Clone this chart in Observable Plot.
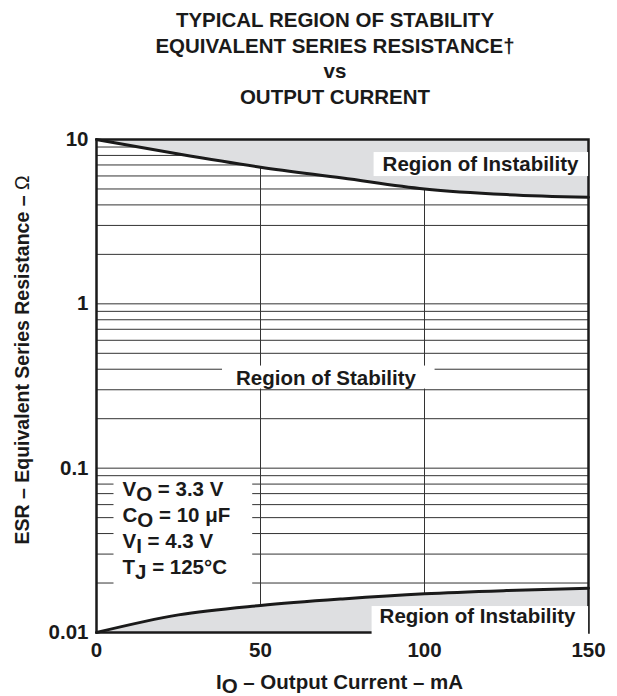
<!DOCTYPE html>
<html><head><meta charset="utf-8">
<script src="https://cdn.jsdelivr.net/npm/d3@7"></script>
<script src="https://cdn.jsdelivr.net/npm/@observablehq/plot@0.6"></script>
<style>
body{margin:0;background:#fff;font-family:"Liberation Sans",Arial,sans-serif;}
#title{height:112px;box-sizing:border-box;padding-top:7px;padding-left:53px;text-align:center;font-weight:bold;font-size:20.5px;line-height:25.5px;color:#1a1a1a;}
#chart svg{display:block;}
</style></head><body>
<div id="title"></div>
<div id="chart"></div>
<script>
// ---- data ----
const titleLines = ["TYPICAL REGION OF STABILITY", "EQUIVALENT SERIES RESISTANCE†", "vs", "OUTPUT CURRENT"];
const currentMA = [0, 25, 50, 75, 100, 125, 150];
const esrUpper = [10, 8.15, 6.78, 5.83, 5.0, 4.62, 4.45];
const esrLower = [0.01, 0.0128, 0.0146, 0.0160, 0.0172, 0.0180, 0.0186];
const xDomain = [0, 150];
const yDomain = [0.01, 10];
const xTicks = [0, 50, 100, 150];
const yTicks = [10, 1, 0.1, 0.01];
const yTickLabels = ["10", "1", "0.1", "0.01"];
const xGridValues = [50, 100];
const labelUpper = "Region of Instability";
const labelLower = "Region of Instability";
const labelStable = "Region of Stability";
const conditions = ["V_{O} = 3.3 V", "C_{O} = 10 μF", "V_{I} = 4.3 V", "T_{J} = 125°C"];
const xLabel = "I_{O} – Output Current – mA";
const yLabel = "ESR – Equivalent Series Resistance – !{Ω}";

// ---- build ----
document.getElementById("title").innerHTML = titleLines.map(t => `<div>${t}</div>`).join("");

const upper = currentMA.map((x, i) => ({x, y: esrUpper[i]}));
const lower = currentMA.map((x, i) => ({x, y: esrLower[i]}));
const yGrid = d3.scaleLog().domain(yDomain).ticks();

const ink = "#1a1a1a";
const gray = "#dedfe1";
const gridColor = "#333333";
const txt = {fontSize: 20.5, fontWeight: "bold", fill: ink};

const plot = Plot.plot({
  width: 617, height: 584,
  marginTop: 27, marginBottom: 64, marginLeft: 96, marginRight: 29,
  style: {fontFamily: "'Liberation Sans', Arial, sans-serif", fontSize: "20.5px", fontWeight: "bold", color: ink, background: "white", overflow: "visible"},
  x: {domain: xDomain, ticks: xTicks, tickSize: 0, tickPadding: 10, label: null},
  y: {type: "log", domain: yDomain, ticks: yTicks, tickFormat: d => yTickLabels[yTicks.indexOf(d)], tickSize: 0, tickPadding: 8, label: null},
  marks: [
    Plot.ruleY(yGrid, {stroke: gridColor, strokeWidth: 1}),
    Plot.ruleX(xGridValues, {stroke: gridColor, strokeWidth: 1}),
    Plot.areaY(upper, {x: "x", y1: "y", y2: () => yDomain[1], fill: gray, curve: "monotone-x"}),
    Plot.areaY(lower, {x: "x", y1: () => yDomain[0], y2: "y", fill: gray, curve: "monotone-x"}),
    Plot.line(upper, {x: "x", y: "y", stroke: ink, strokeWidth: 3, curve: "monotone-x"}),
    Plot.line(lower, {x: "x", y: "y", stroke: ink, strokeWidth: 3, curve: "monotone-x"}),
    Plot.frame({stroke: ink, strokeWidth: 2.5}),
    Plot.text([labelUpper], {text: d => d, frameAnchor: "top-right", textAnchor: "end", lineAnchor: "middle", dx: -10, dy: 25, ...txt}),
    Plot.text([labelLower], {text: d => d, frameAnchor: "bottom-right", textAnchor: "end", lineAnchor: "middle", dx: -13, dy: -16, ...txt}),
    Plot.text([labelStable], {text: d => d, frameAnchor: "middle", textAnchor: "middle", lineAnchor: "middle", dx: -16.5, dy: -8, ...txt}),
    Plot.text([conditions.join("\n")], {text: d => d, frameAnchor: "left", textAnchor: "start", lineAnchor: "top", lineHeight: 1.26, dx: 26, dy: 91.7, ...txt}),
    Plot.text([xLabel], {text: d => d, frameAnchor: "bottom", textAnchor: "middle", lineAnchor: "bottom", dx: -3, dy: 56, ...txt}),
    Plot.text([yLabel], {text: d => d, frameAnchor: "left", textAnchor: "middle", lineAnchor: "middle", rotate: -90, dx: -74, dy: -26, ...txt, fontSize: 19.5})
  ]
});
document.getElementById("chart").appendChild(plot);

// ---- subscript / normal-weight markup into tspans ----
const NS = "http://www.w3.org/2000/svg";
const plainOf = s => s.replace(/[_!]\{([^}]*)\}/g, "$1");
function applyMarkup(root, subShift) {
  const walker = document.createTreeWalker(root, NodeFilter.SHOW_TEXT);
  const nodes = [];
  while (walker.nextNode()) nodes.push(walker.currentNode);
  for (const node of nodes) {
    const s = node.nodeValue;
    if (!/[_!]\{/.test(s)) continue;
    const re = /([_!])\{([^}]*)\}/g;
    const frag = document.createDocumentFragment();
    let last = 0, m, shift = 0;
    const add = (text, attrs) => {
      const t = document.createElementNS(NS, "tspan");
      for (const k in attrs) t.setAttribute(k, attrs[k]);
      t.textContent = text;
      frag.appendChild(t);
    };
    while ((m = re.exec(s))) {
      if (m.index > last) { add(s.slice(last, m.index), shift ? {dy: -shift} : {}); shift = 0; }
      if (m[1] === "_") { add(m[2], shift ? {} : {dy: subShift}); shift = subShift; }
      else { add(m[2], Object.assign({"font-weight": "normal"}, shift ? {dy: -shift} : {})); shift = 0; }
      last = re.lastIndex;
    }
    if (last < s.length) add(s.slice(last), shift ? {dy: -shift} : {});
    node.parentNode.replaceChild(frag, node);
  }
}
for (const t of plot.querySelectorAll("text")) {
  applyMarkup(t, t.textContent === xLabel ? 4 : 5);
}

// ---- white boxes behind annotation texts (from measured text bounds), in mark order ----
const pads = [
  [labelUpper, [9, 9, 0, 1]],
  [labelLower, [8, 12, -2, 8]],
  [labelStable, [14, 18, 0, 0]],
  [conditions.join(""), [9, 22, 0, 5]]
];
let next = 0;
for (const t of plot.querySelectorAll("text")) {
  if (next >= pads.length) break;
  const [label, pad] = pads[next];
  if (plainOf(label) !== t.textContent) continue;
  next++;
  const b = t.getBBox();
  const r = document.createElementNS(NS, "rect");
  r.setAttribute("x", b.x - pad[0]);
  r.setAttribute("y", b.y - pad[2]);
  r.setAttribute("width", b.width + pad[0] + pad[1]);
  r.setAttribute("height", b.height + pad[2] + pad[3]);
  r.setAttribute("fill", "white");
  if (t.getAttribute("transform")) r.setAttribute("transform", t.getAttribute("transform"));
  t.parentNode.insertBefore(r, t);
}
</script>
</body></html>
